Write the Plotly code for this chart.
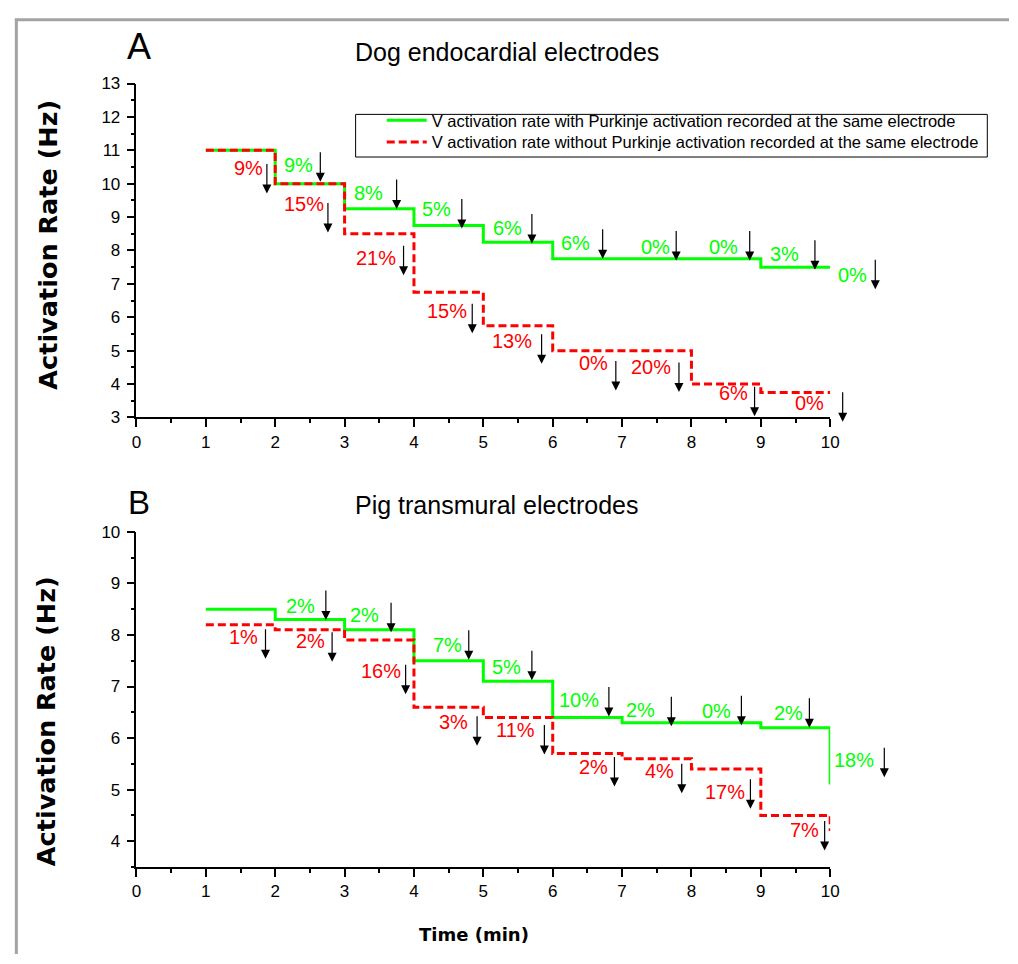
import plotly.graph_objects as go

# ---------------- data ----------------
time_min = [1, 2, 3, 4, 5, 6, 7, 8, 9, 10]

dog_with = [11, 10, 9.25, 8.75, 8.25, 7.75, 7.75, 7.75, 7.5, 7.5]
dog_without = [11, 10, 8.5, 6.75, 5.75, 5.0, 5.0, 4.0, 3.75, 3.75]
pig_with = [8.5, 8.3, 8.1, 7.5, 7.1, 6.4, 6.3, 6.3, 6.2, 5.1]
pig_without = [8.2, 8.1, 7.9, 6.6, 6.4, 5.7, 5.6, 5.4, 4.5, 4.2]

dog_with_pct = ["9%", "8%", "5%", "6%", "6%", "0%", "0%", "3%", "0%"]
dog_with_label_x = [2.34, 3.34, 4.33, 5.35, 6.33, 7.48, 8.46, 9.34, 10.32]
dog_with_label_y = [10.45, 9.6, 9.13, 8.54, 8.09, 7.99, 7.99, 7.77, 7.14]
dog_with_arrow_x = [2.65, 3.75, 4.69, 5.70, 6.72, 7.78, 8.84, 9.78, 10.65]
dog_with_arrow_y = [10.06, 9.24, 8.66, 8.21, 7.75, 7.70, 7.70, 7.42, 6.84]

dog_without_pct = ["9%", "15%", "21%", "15%", "13%", "0%", "20%", "6%", "0%"]
dog_without_label_x = [1.61, 2.41, 3.45, 4.48, 5.42, 6.59, 7.41, 8.60, 9.70]
dog_without_label_y = [10.34, 9.26, 7.65, 6.08, 5.17, 4.52, 4.40, 3.62, 3.31]
dog_without_arrow_x = [1.88, 2.76, 3.85, 4.84, 5.84, 6.91, 7.82, 8.91, 10.18]
dog_without_arrow_y = [9.71, 8.54, 7.26, 5.52, 4.61, 3.81, 3.76, 3.04, 2.87]

pig_with_pct = ["2%", "2%", "7%", "5%", "10%", "2%", "0%", "2%", "18%"]
pig_with_label_x = [2.37, 3.29, 4.48, 5.34, 6.38, 7.26, 8.36, 9.40, 10.34]
pig_with_label_y = [8.49, 8.30, 7.72, 7.31, 6.66, 6.47, 6.45, 6.40, 5.50]
pig_with_arrow_x = [2.73, 3.67, 4.79, 5.70, 6.81, 7.71, 8.72, 9.70, 10.78]
pig_with_arrow_y = [8.29, 8.05, 7.52, 7.12, 6.42, 6.23, 6.25, 6.20, 5.24]

pig_without_pct = ["1%", "2%", "16%", "3%", "11%", "2%", "4%", "17%", "7%"]
pig_without_label_x = [1.55, 2.51, 3.52, 4.57, 5.46, 6.59, 7.54, 8.49, 9.63]
pig_without_label_y = [7.89, 7.80, 7.23, 6.24, 6.07, 5.37, 5.29, 4.87, 4.14]
pig_without_arrow_x = [1.86, 2.82, 3.88, 4.91, 5.88, 6.89, 7.86, 8.85, 9.92]
pig_without_arrow_y = [7.54, 7.48, 6.85, 5.85, 5.68, 5.06, 4.93, 4.63, 3.82]

x_ticks = list(range(0, 11))
legend_with = "V activation rate with Purkinje activation recorded at the same electrode"
legend_without = "V activation rate without Purkinje activation recorded at the same electrode"

# ---------------- styles / layout geometry ----------------
W, H = 1018, 964
GREEN = "#00ff00"
RED = "#ff0000"
ARIAL = "Liberation Sans, Arial, sans-serif"
BOLD = "DejaVu Sans, Liberation Sans, sans-serif"


def px_x(p):
    return p / W


def px_y(p):
    return 1 - p / H


X_DOM = [px_x(133.3), px_x(836.7)]
X_RANGE = [0, 10]
PANELS = {
    "top": dict(ydom=[px_y(416.7), px_y(76)], yrange=[3, 13]),
    "bottom": dict(ydom=[px_y(875.3), px_y(533.3)], yrange=[3.5, 10]),
}


def to_paper(panel, x, y):
    p = PANELS[panel]
    fx = X_DOM[0] + (x - X_RANGE[0]) / (X_RANGE[1] - X_RANGE[0]) * (X_DOM[1] - X_DOM[0])
    fy = p["ydom"][0] + (y - p["yrange"][0]) / (p["yrange"][1] - p["yrange"][0]) * (p["ydom"][1] - p["ydom"][0])
    return fx, fy


fig = go.Figure()

fig.add_trace(go.Scatter(x=time_min, y=dog_with, mode="lines", line_shape="hv",
                         line=dict(color=GREEN, width=3), name=legend_with, legend="legend",
                         xaxis="x", yaxis="y", cliponaxis=False))
fig.add_trace(go.Scatter(x=time_min, y=dog_without, mode="lines", line_shape="hv",
                         line=dict(color=RED, width=3, dash="8px,4px"), name=legend_without,
                         legend="legend2", xaxis="x", yaxis="y", cliponaxis=False))
fig.add_trace(go.Scatter(x=time_min, y=pig_with, mode="lines", line_shape="hv",
                         line=dict(color=GREEN, width=3), showlegend=False,
                         xaxis="x2", yaxis="y2", cliponaxis=False))
fig.add_trace(go.Scatter(x=time_min, y=pig_without, mode="lines", line_shape="hv",
                         line=dict(color=RED, width=3, dash="8px,4px"), showlegend=False,
                         xaxis="x2", yaxis="y2", cliponaxis=False))

annotations = []


def add_labels(panel, texts, lx, ly, axx, axy, color):
    for t, x, y in zip(texts, lx, ly):
        fx, fy = to_paper(panel, x, y)
        annotations.append(dict(x=fx, y=fy, xref="paper", yref="paper", text=t, showarrow=False,
                                xanchor="center", yanchor="middle", yshift=4,
                                font=dict(family=ARIAL, size=20, color=color)))
    for x, y in zip(axx, axy):
        fx, fy = to_paper(panel, x, y)
        annotations.append(dict(x=fx, y=fy, xref="paper", yref="paper", text="", showarrow=True,
                                ax=0, ay=-31, arrowhead=2, arrowsize=1.5, arrowwidth=1.2,
                                arrowcolor="black"))


add_labels("top", dog_with_pct, dog_with_label_x, dog_with_label_y, dog_with_arrow_x, dog_with_arrow_y, GREEN)
add_labels("top", dog_without_pct, dog_without_label_x, dog_without_label_y, dog_without_arrow_x, dog_without_arrow_y, RED)
add_labels("bottom", pig_with_pct, pig_with_label_x, pig_with_label_y, pig_with_arrow_x, pig_with_arrow_y, GREEN)
add_labels("bottom", pig_without_pct, pig_without_label_x, pig_without_label_y, pig_without_arrow_x, pig_without_arrow_y, RED)

# panel letters and titles
annotations += [
    dict(x=px_x(136), y=px_y(38), xref="paper", yref="paper", text="A", showarrow=False,
         xanchor="center", yanchor="middle", font=dict(family=ARIAL, size=36, color="black")),
    dict(x=px_x(353), y=px_y(44), xref="paper", yref="paper", text="Dog endocardial electrodes",
         showarrow=False, xanchor="left", yanchor="middle", font=dict(family=ARIAL, size=25, color="black")),
    dict(x=px_x(136), y=px_y(503), xref="paper", yref="paper", text="B", showarrow=False,
         xanchor="center", yanchor="middle", font=dict(family=ARIAL, size=33, color="black")),
    dict(x=px_x(353), y=px_y(506), xref="paper", yref="paper", text="Pig transmural electrodes",
         showarrow=False, xanchor="left", yanchor="middle", font=dict(family=ARIAL, size=25, color="black")),
    dict(x=px_x(44), y=px_y(240), xref="paper", yref="paper", text="<b>Activation Rate (Hz)</b>",
         showarrow=False, textangle=-90, xanchor="center", yanchor="middle",
         font=dict(family=BOLD, size=25.5, color="black")),
    dict(x=px_x(41), y=px_y(726), xref="paper", yref="paper", text="<b>Activation Rate (Hz)</b>",
         showarrow=False, textangle=-90, xanchor="center", yanchor="middle",
         font=dict(family=BOLD, size=25.5, color="black")),
    dict(x=px_x(476), y=px_y(944), xref="paper", yref="paper", text="<b>Time (min)</b>",
         showarrow=False, xanchor="center", yanchor="middle",
         font=dict(family=BOLD, size=18, color="black")),
]

axis_common = dict(showgrid=False, zeroline=False, showline=True, linecolor="black", linewidth=1.5,
                   ticks="outside", ticklen=8, tickwidth=1.5, tickcolor="black",
                   tickfont=dict(family=ARIAL, size=17, color="black"),
                   minor=dict(dtick=0.5, ticklen=4, tickwidth=1.5, tickcolor="black", ticks="outside",
                              showgrid=False))

legend_common = dict(xanchor="left", yanchor="top", borderwidth=0, bgcolor="rgba(0,0,0,0)",
                     font=dict(family=ARIAL, size=16.5, color="black"), itemwidth=40)

fig.update_layout(
    width=W, height=H,
    margin=dict(l=0, r=0, t=0, b=0),
    paper_bgcolor="white", plot_bgcolor="white",
    font=dict(family=ARIAL, color="black"),
    xaxis=dict(domain=X_DOM, range=X_RANGE, tickmode="array", tickvals=x_ticks, anchor="y", **axis_common),
    yaxis=dict(domain=PANELS["top"]["ydom"], range=PANELS["top"]["yrange"], dtick=1, tick0=3,
               anchor="x", ticklabelstandoff=3, **axis_common),
    xaxis2=dict(domain=X_DOM, range=X_RANGE, tickmode="array", tickvals=x_ticks, anchor="y2", **axis_common),
    yaxis2=dict(domain=PANELS["bottom"]["ydom"], range=PANELS["bottom"]["yrange"], dtick=1, tick0=4,
                anchor="x2", ticklabelstandoff=3, **axis_common),
    legend=dict(x=px_x(382), y=px_y(96), **legend_common),
    legend2=dict(x=px_x(382), y=px_y(118), **legend_common),
    annotations=annotations,
    shapes=[
        dict(type="rect", xref="paper", yref="paper", x0=px_x(355.5), x1=px_x(996), y0=px_y(151),
             y1=px_y(107.5), line=dict(color="black", width=1), fillcolor="rgba(0,0,0,0)", layer="below"),
        dict(type="line", xref="paper", yref="paper", x0=px_x(10), x1=1, y0=px_y(11), y1=px_y(11),
             line=dict(color="#a3a3a3", width=3)),
        dict(type="line", xref="paper", yref="paper", x0=px_x(11.5), x1=px_x(11.5), y0=px_y(10), y1=0,
             line=dict(color="#a3a3a3", width=3)),
    ],
)

fig.write_html("out.html", config={"displayModeBar": False},
               post_script="document.body.style.margin='0';document.body.style.overflow='hidden';")
